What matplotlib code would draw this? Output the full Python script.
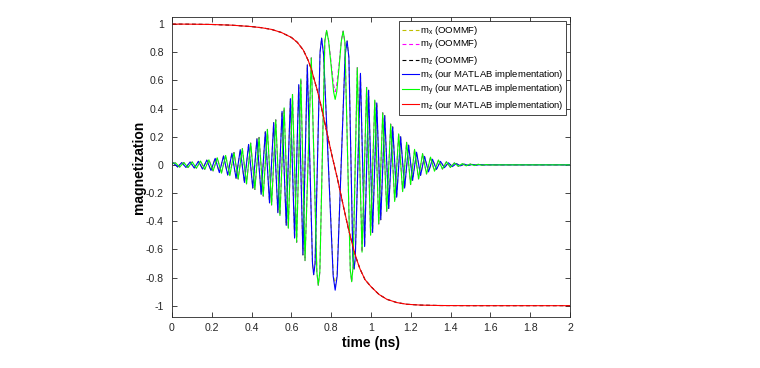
import matplotlib
matplotlib.use('Agg')
import matplotlib.pyplot as plt

plt.rcParams['font.family'] = ['Liberation Sans', 'DejaVu Sans']
plt.rcParams['mathtext.default'] = 'regular'

# extrema of m_x (time in ns)
t_mx = [0.0, 0.007, 0.028, 0.049, 0.070, 0.091, 0.112, 0.133, 0.154, 0.175, 0.196,
        0.217, 0.238, 0.259, 0.280, 0.301, 0.322, 0.343, 0.364, 0.385, 0.406,
        0.427, 0.448, 0.469, 0.490, 0.511, 0.532, 0.553, 0.574, 0.595, 0.616,
        0.637, 0.658, 0.680, 0.706, 0.712, 0.719, 0.744, 0.752, 0.762, 0.810,
        0.820, 0.830, 0.870, 0.880, 0.889, 0.909, 0.915, 0.921, 0.947, 0.968,
        0.988, 1.008, 1.029, 1.049, 1.069, 1.089, 1.109, 1.129, 1.149, 1.169,
        1.189, 1.209, 1.229, 1.249, 1.269, 1.289, 1.309, 1.329, 1.349, 1.369,
        1.389, 1.409, 1.429, 1.449, 1.469, 1.489, 1.509, 1.529, 1.549, 1.569,
        1.589, 1.65, 2.0]
mx_matlab = [0.005, 0.014, -0.015, 0.016, -0.018, 0.020, -0.022, 0.025, -0.030, 0.034, -0.040,
             0.046, -0.055, 0.063, -0.072, 0.082, -0.095, 0.108, -0.125, 0.145, -0.165,
             0.185, -0.210, 0.235, -0.270, 0.300, -0.340, 0.380, -0.430, 0.470, -0.520,
             0.570, -0.640, 0.710, -0.700, -0.780, -0.700, 0.800, 0.900, 0.780, -0.790,
             -0.890, -0.790, 0.780, 0.880, 0.760, -0.660, -0.740, -0.660, 0.650, -0.580,
             0.530, -0.480, 0.440, -0.390, 0.350, -0.310, 0.270, -0.230, 0.200, -0.165,
             0.140, -0.110, 0.090, -0.075, 0.060, -0.050, 0.040, -0.032, 0.025, -0.020,
             0.015, -0.012, 0.009, -0.007, 0.005, -0.004, 0.003, -0.002, 0.0015, -0.001,
             0.0005, 0.0, 0.0]
mx_oommf = [0.005, 0.014, -0.015, 0.016, -0.018, 0.020, -0.022, 0.025, -0.030, 0.034, -0.040,
            0.046, -0.055, 0.063, -0.072, 0.082, -0.095, 0.108, -0.125, 0.145, -0.165,
            0.185, -0.210, 0.235, -0.270, 0.300, -0.340, 0.380, -0.430, 0.470, -0.520,
            0.570, -0.640, 0.710, -0.700, -0.780, -0.700, 0.800, 0.900, 0.780, -0.770,
            -0.860, -0.770, 0.780, 0.880, 0.760, -0.660, -0.740, -0.660, 0.650, -0.580,
            0.530, -0.480, 0.440, -0.390, 0.350, -0.310, 0.270, -0.230, 0.200, -0.165,
            0.140, -0.110, 0.090, -0.075, 0.060, -0.050, 0.040, -0.032, 0.025, -0.020,
            0.015, -0.012, 0.009, -0.007, 0.005, -0.004, 0.003, -0.002, 0.0015, -0.001,
            0.0005, 0.0, 0.0]

# extrema of m_y
t_my = [0.0, 0.0175, 0.0385, 0.0595, 0.0805, 0.1015, 0.1225, 0.1435, 0.1645, 0.1855,
        0.2065, 0.2275, 0.2485, 0.2695, 0.2905, 0.3115, 0.3325, 0.3535, 0.3745,
        0.3955, 0.4165, 0.4375, 0.4585, 0.4795, 0.5005, 0.5215, 0.5425, 0.5635,
        0.5845, 0.6055, 0.6265, 0.6475, 0.6685, 0.700, 0.728, 0.735, 0.743, 0.768,
        0.777, 0.787, 0.800, 0.812, 0.820, 0.828, 0.840, 0.851, 0.860, 0.869,
        0.896, 0.903, 0.910, 0.931, 0.955, 0.978, 0.998, 1.019, 1.039, 1.059,
        1.079, 1.099, 1.119, 1.139, 1.159, 1.179, 1.199, 1.219, 1.239, 1.259,
        1.279, 1.299, 1.319, 1.339, 1.359, 1.379, 1.399, 1.419, 1.439, 1.459,
        1.479, 1.499, 1.519, 1.539, 1.559, 1.579, 1.599, 1.65, 2.0]
my_matlab = [0.010, 0.014, -0.016, 0.017, -0.019, 0.021, -0.024, 0.027, -0.032, 0.036,
             -0.043, 0.050, -0.059, 0.067, -0.077, 0.088, -0.101, 0.116, -0.135,
             0.155, -0.175, 0.195, -0.222, 0.252, -0.285, 0.320, -0.360, 0.405,
             -0.450, 0.500, -0.550, 0.610, -0.680, 0.760, -0.760, -0.855, -0.760, 0.880,
             0.955, 0.880, 0.700, 0.520, 0.465, 0.520, 0.700, 0.880, 0.950, 0.870,
             -0.750, -0.830, -0.720, 0.690, -0.620, 0.550, -0.500, 0.460, -0.420, 0.370,
             -0.330, 0.290, -0.260, 0.220, -0.190, 0.160, -0.140, 0.110, -0.100, 0.080,
             -0.065, 0.055, -0.045, 0.035, -0.030, 0.022, -0.018, 0.014, -0.011, 0.009,
             -0.007, 0.006, -0.005, 0.004, -0.003, 0.002, -0.001, 0.0, 0.0]
my_oommf = [0.010, 0.014, -0.016, 0.017, -0.019, 0.021, -0.024, 0.027, -0.032, 0.036,
            -0.043, 0.050, -0.059, 0.067, -0.077, 0.088, -0.101, 0.116, -0.135,
            0.155, -0.175, 0.195, -0.222, 0.252, -0.285, 0.320, -0.360, 0.405,
            -0.450, 0.500, -0.550, 0.610, -0.680, 0.760, -0.760, -0.855, -0.760, 0.880,
            0.955, 0.885, 0.720, 0.570, 0.520, 0.570, 0.720, 0.885, 0.950, 0.870,
            -0.750, -0.830, -0.720, 0.690, -0.620, 0.550, -0.500, 0.460, -0.420, 0.370,
            -0.330, 0.290, -0.260, 0.220, -0.190, 0.160, -0.140, 0.110, -0.100, 0.080,
            -0.065, 0.055, -0.045, 0.035, -0.030, 0.022, -0.018, 0.014, -0.011, 0.009,
            -0.007, 0.006, -0.005, 0.004, -0.003, 0.002, -0.001, 0.0, 0.0]

# m_z switching curve
t_mz = [0.0, 0.1, 0.2, 0.3, 0.4, 0.45, 0.5, 0.55, 0.6, 0.63, 0.66, 0.685, 0.7,
        0.714, 0.73, 0.744, 0.76, 0.78, 0.8, 0.815, 0.83, 0.85, 0.87, 0.886, 0.9,
        0.915, 0.93, 0.945, 0.97, 1.0, 1.04, 1.08, 1.13, 1.18, 1.25, 1.35, 1.5, 2.0]
mz_matlab = [1.0, 0.999, 0.997, 0.992, 0.982, 0.974, 0.962, 0.94, 0.905, 0.87, 0.815,
             0.74, 0.68, 0.61, 0.53, 0.45, 0.35, 0.22, 0.09, 0.0, -0.09, -0.22, -0.35,
             -0.45, -0.53, -0.61, -0.68, -0.74, -0.815, -0.865, -0.92, -0.955, -0.978,
             -0.99, -0.996, -0.999, -1.0, -1.0]
mz_oommf = [1.0, 0.999, 0.997, 0.992, 0.982, 0.974, 0.962, 0.94, 0.905, 0.87, 0.815,
            0.74, 0.68, 0.61, 0.53, 0.45, 0.35, 0.22, 0.09, 0.0, -0.09, -0.22, -0.35,
            -0.45, -0.53, -0.61, -0.68, -0.74, -0.815, -0.865, -0.92, -0.955, -0.978,
            -0.99, -0.996, -0.999, -1.0, -1.0]

xticks = [0, 0.2, 0.4, 0.6, 0.8, 1, 1.2, 1.4, 1.6, 1.8, 2]
xtick_labels = ['0', '0.2', '0.4', '0.6', '0.8', '1', '1.2', '1.4', '1.6', '1.8', '2']
yticks = [-1, -0.8, -0.6, -0.4, -0.2, 0, 0.2, 0.4, 0.6, 0.8, 1]
ytick_labels = ['-1', '-0.8', '-0.6', '-0.4', '-0.2', '0', '0.2', '0.4', '0.6', '0.8', '1']

dash = (0, (3.5, 2.5))
lw = 0.8
fig = plt.figure(figsize=(7.6, 3.68), dpi=100)
ax = fig.add_axes([0.2263, 0.138, 0.5237, 0.815])

ax.plot(t_mx, mx_oommf, color='#bfbf00', ls=dash, lw=lw, label=r'm$_x$ (OOMMF)')
ax.plot(t_my, my_oommf, color='#ff00ff', ls=dash, lw=lw, label=r'm$_y$ (OOMMF)')
ax.plot(t_mz, mz_oommf, color='black', ls=dash, lw=lw, label=r'm$_z$ (OOMMF)')
ax.plot(t_mx, mx_matlab, color='#0000ff', lw=lw, label=r'm$_x$ (our MATLAB implementation)')
ax.plot(t_my, my_matlab, color='#00ff00', lw=lw, label=r'm$_y$ (our MATLAB implementation)')
ax.plot(t_mz, mz_matlab, color='#ff0000', lw=lw, label=r'm$_z$ (our MATLAB implementation)')

ax.set_xlim(0, 2)
ax.set_ylim(-1.082, 1.048)
ax.set_xticks(xticks)
ax.set_xticklabels(xtick_labels)
ax.set_yticks(yticks)
ax.set_yticklabels(ytick_labels)
ax.tick_params(direction='in', length=3.5, width=0.6, top=True, right=True,
               labelsize=7.6, colors='#262626', pad=4)
ax.tick_params(axis='y', pad=6)
for s in ax.spines.values():
    s.set_color('#262626')
    s.set_linewidth(0.6)

ax.set_xlabel('time (ns)', fontsize=10, fontweight='bold', labelpad=2)
ax.set_ylabel('magnetization', fontsize=10, fontweight='bold')
ax.yaxis.set_label_coords(-0.066, 0.5)

leg = ax.legend(loc='upper right', fontsize=6.8, frameon=True, fancybox=False,
                framealpha=1, edgecolor='#262626', handlelength=1.8,
                handletextpad=0.15, labelspacing=0.12, borderpad=0.3,
                borderaxespad=0.4)
leg.get_frame().set_linewidth(0.6)

fig.savefig('out.png', dpi=100)
